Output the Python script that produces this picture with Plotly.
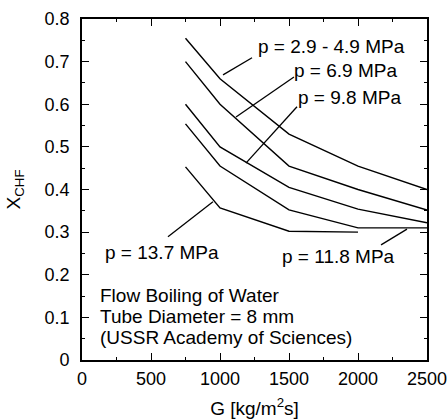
import plotly.graph_objects as go

# Mass flux G [kg/m^2 s]
G = [750, 1000, 1500, 2000, 2500]
G_137 = [750, 1000, 1500, 2000]

# Critical heat flux quality X_CHF per pressure
x_29_49 = [0.755, 0.66, 0.53, 0.455, 0.40]
x_69 = [0.70, 0.60, 0.455, 0.40, 0.352]
x_98 = [0.60, 0.50, 0.405, 0.354, 0.322]
x_118 = [0.554, 0.455, 0.352, 0.31, 0.31]
x_137 = [0.453, 0.357, 0.302, 0.300]

series = [
    (G, x_29_49), (G, x_69), (G, x_98), (G, x_118), (G_137, x_137),
]

# Labels: (text, x, y) and leader lines (curve point -> label end)
labels = [
    ("p = 2.9 - 4.9 MPa", 1261, 0.735),
    ("p = 6.9 MPa", 1522, 0.680),
    ("p = 9.8 MPa", 1551, 0.617),
    ("p = 13.7 MPa", 152, 0.253),
    ("p = 11.8 MPa", 1435, 0.242),
]
leaders = [
    (1022, 0.669, 1232, 0.709),
    (1116, 0.570, 1536, 0.664),
    (1188, 0.462, 1558, 0.594),
    (949, 0.371, 623, 0.289),
    (2355, 0.307, 2167, 0.270),
]
notes = [
    ("Flow Boiling of Water", 116, 0.152),
    ("Tube Diameter = 8 mm", 116, 0.101),
    ("(USSR Academy of Sciences)", 116, 0.052),
]

FONT = "Liberation Sans, Arial, sans-serif"
FS = 19
TFS = 18

fig = go.Figure()
for gx, xy in series:
    fig.add_trace(go.Scatter(x=gx, y=xy, mode="lines",
                             line=dict(color="black", width=1.4),
                             showlegend=False, hoverinfo="skip"))

for x0, y0, x1, y1 in leaders:
    fig.add_trace(go.Scatter(x=[x0, x1], y=[y0, y1], mode="lines",
                             line=dict(color="black", width=1.3),
                             showlegend=False, hoverinfo="skip"))

for t, x, y in labels + notes:
    fig.add_annotation(x=x, y=y, xref="x", yref="y", text=t, showarrow=False,
                       xanchor="left", yanchor="middle",
                       font=dict(family=FONT, size=FS, color="black"))

axis_common = dict(
    showline=True, linecolor="black", linewidth=1.6, mirror="ticks",
    ticks="inside", ticklen=7, tickwidth=1.3, tickcolor="black",
    showgrid=False, zeroline=False, ticklabeloverflow="allow",
    tickfont=dict(family=FONT, size=TFS, color="black"),
)

fig.update_xaxes(range=[0, 2500], dtick=500, tick0=0,
                 minor=dict(ticks="inside", ticklen=3, dtick=250, tickcolor="black"),
                 ticklabelstandoff=2,
                 title=dict(text="G [kg/m<sup>2</sup>s]", font=dict(family=FONT, size=FS, color="black"), standoff=14),
                 **axis_common)
fig.update_yaxes(range=[0, 0.8], dtick=0.1, tick0=0,
                 minor=dict(ticks="inside", ticklen=3, dtick=0.05, tickcolor="black"),
                 ticklabelstandoff=7,
                 title=dict(text="X<sub>CHF</sub>", font=dict(family=FONT, size=FS, color="black"), standoff=19),
                 **axis_common)

fig.update_layout(width=448, height=419,
                  margin=dict(l=82, r=21, t=19, b=59, autoexpand=False),
                  paper_bgcolor="white", plot_bgcolor="white")

# remove the page's default body margin so the figure sits at the window's corner
fig.write_html("out.html", config={"displayModeBar": False},
               post_script="document.body.style.margin='0';document.body.style.overflow='hidden';")
